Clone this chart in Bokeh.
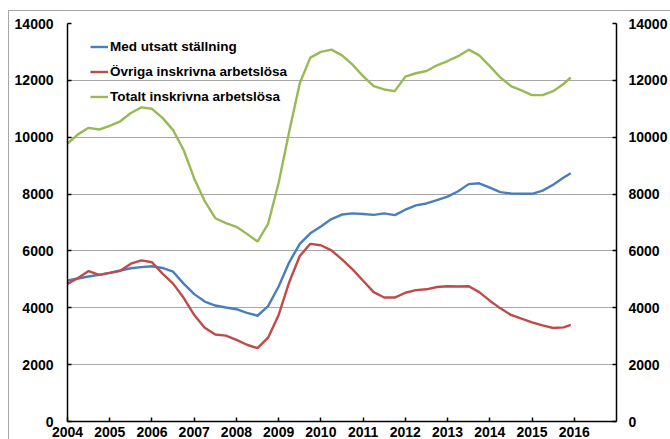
from bokeh.plotting import figure
from bokeh.models import FixedTicker, LinearAxis, Range1d, Legend, LegendItem, ColumnDataSource, InlineStyleSheet
from bokeh.embed import file_html
from bokeh.resources import INLINE

periods = [
    "2004-01", "2004-04", "2004-07", "2004-10",
    "2005-01", "2005-04", "2005-07", "2005-10",
    "2006-01", "2006-04", "2006-07", "2006-10",
    "2007-01", "2007-04", "2007-07", "2007-10",
    "2008-01", "2008-04", "2008-07", "2008-10",
    "2009-01", "2009-04", "2009-07", "2009-10",
    "2010-01", "2010-04", "2010-07", "2010-10",
    "2011-01", "2011-04", "2011-07", "2011-10",
    "2012-01", "2012-04", "2012-07", "2012-10",
    "2013-01", "2013-04", "2013-07", "2013-10",
    "2014-01", "2014-04", "2014-07", "2014-10",
    "2015-01", "2015-04", "2015-07", "2015-10", "2015-12",
]

med_utsatt = [
    4960, 5030, 5100, 5160,
    5230, 5310, 5390, 5430,
    5460, 5400, 5270, 4850,
    4480, 4220, 4080, 4010,
    3950, 3820, 3720, 4060,
    4750, 5600, 6250, 6620,
    6860, 7120, 7280, 7320,
    7300, 7270, 7320, 7260,
    7450, 7600, 7670, 7790,
    7910, 8100, 8350, 8380,
    8230, 8070, 8020, 8010,
    8010, 8120, 8330, 8580, 8730,
]

ovriga = [
    4840, 5050, 5290, 5160,
    5230, 5300, 5550, 5670,
    5600, 5200, 4850, 4350,
    3750, 3300, 3060, 3020,
    2870, 2700, 2580, 2950,
    3750, 4900, 5820, 6250,
    6200, 6020, 5700, 5350,
    4950, 4550, 4360, 4360,
    4530, 4620, 4650, 4730,
    4760, 4750, 4760, 4550,
    4250, 3980, 3750, 3620,
    3490, 3380, 3290, 3310, 3400,
]

totalt = [
    9780, 10100, 10330, 10270,
    10400, 10560, 10850, 11050,
    11000, 10680, 10250, 9550,
    8550, 7750, 7150, 6980,
    6850, 6600, 6330, 6950,
    8400, 10200, 11900, 12800,
    13000, 13080, 12880, 12550,
    12150, 11800, 11680, 11620,
    12130, 12250, 12330, 12530,
    12680, 12850, 13080, 12880,
    12500, 12100, 11800, 11650,
    11480, 11480, 11620, 11880, 12100,
]

series_names = ["Med utsatt ställning", "Övriga inskrivna arbetslösa", "Totalt inskrivna arbetslösa"]
series_colors = ["#4A7EBB", "#BE4B48", "#98B954"]
year_ticks = list(range(2004, 2017))
y_ticks = [0, 2000, 4000, 6000, 8000, 10000, 12000, 14000]


def to_year(s):
    y, m = s.split("-")
    return int(y) + (int(m) - 1) / 12.0


xs = [to_year(s) for s in periods]
src = ColumnDataSource(dict(x=xs, a=med_utsatt, b=ovriga, c=totalt))

border_css = InlineStyleSheet(css="""
:host {
  background:
    linear-gradient(#a6a6a6, #a6a6a6) 8px 10px / 1px 100% no-repeat,
    linear-gradient(#a6a6a6, #a6a6a6) 8px 10px / 100% 1px no-repeat,
    #ffffff;
}
""")

p = figure(width=670, height=439, output_backend="svg", toolbar_location=None,
           x_range=Range1d(2004, 2017), y_range=Range1d(0, 14000),
           min_border_left=67, min_border_top=23, min_border_right=0, min_border_bottom=0,
           stylesheets=[border_css])
p.outline_line_color = None
p.background_fill_color = "white"
p.border_fill_color = None

FONT = "Liberation Sans"

renderers = []
for col, color in zip(["a", "b", "c"], series_colors):
    r = p.line("x", col, source=src, line_color=color, line_width=2.4)
    renderers.append(r)

p.xgrid.visible = False
p.ygrid.ticker = FixedTicker(ticks=y_ticks)
p.ygrid.grid_line_color = "#a6a6a6"
p.ygrid.grid_line_width = 1

right_axis = LinearAxis()
p.add_layout(right_axis, "right")

for ax in [p.yaxis[0], right_axis]:
    ax.ticker = FixedTicker(ticks=y_ticks)

p.xaxis.ticker = FixedTicker(ticks=year_ticks)

for ax in [p.xaxis[0], p.yaxis[0], right_axis]:
    ax.axis_line_color = "black"
    ax.axis_line_width = 1.5
    ax.major_tick_line_color = "black"
    ax.major_tick_line_width = 1.5
    ax.major_tick_in = 4
    ax.major_tick_out = 0
    ax.minor_tick_line_color = None
    ax.major_label_text_font = FONT
    ax.major_label_text_font_style = "bold"
    ax.major_label_text_font_size = "14px"
    ax.major_label_text_color = "black"

p.yaxis[0].major_label_standoff = 14
right_axis.major_label_standoff = 12
p.xaxis[0].major_label_standoff = 5

legend = Legend(
    items=[LegendItem(label=n, renderers=[r]) for n, r in zip(series_names, renderers)],
    location=(23, 314),
    border_line_color=None,
    background_fill_alpha=0,
    label_text_font=FONT,
    label_text_font_style="bold",
    label_text_font_size="13.5px",
    label_text_color="black",
    glyph_width=18,
    glyph_height=21,
    label_height=21,
    label_standoff=2,
    padding=0,
    spacing=4,
    margin=0,
)
p.add_layout(legend)

open("out.html", "w").write(file_html(p, INLINE))
